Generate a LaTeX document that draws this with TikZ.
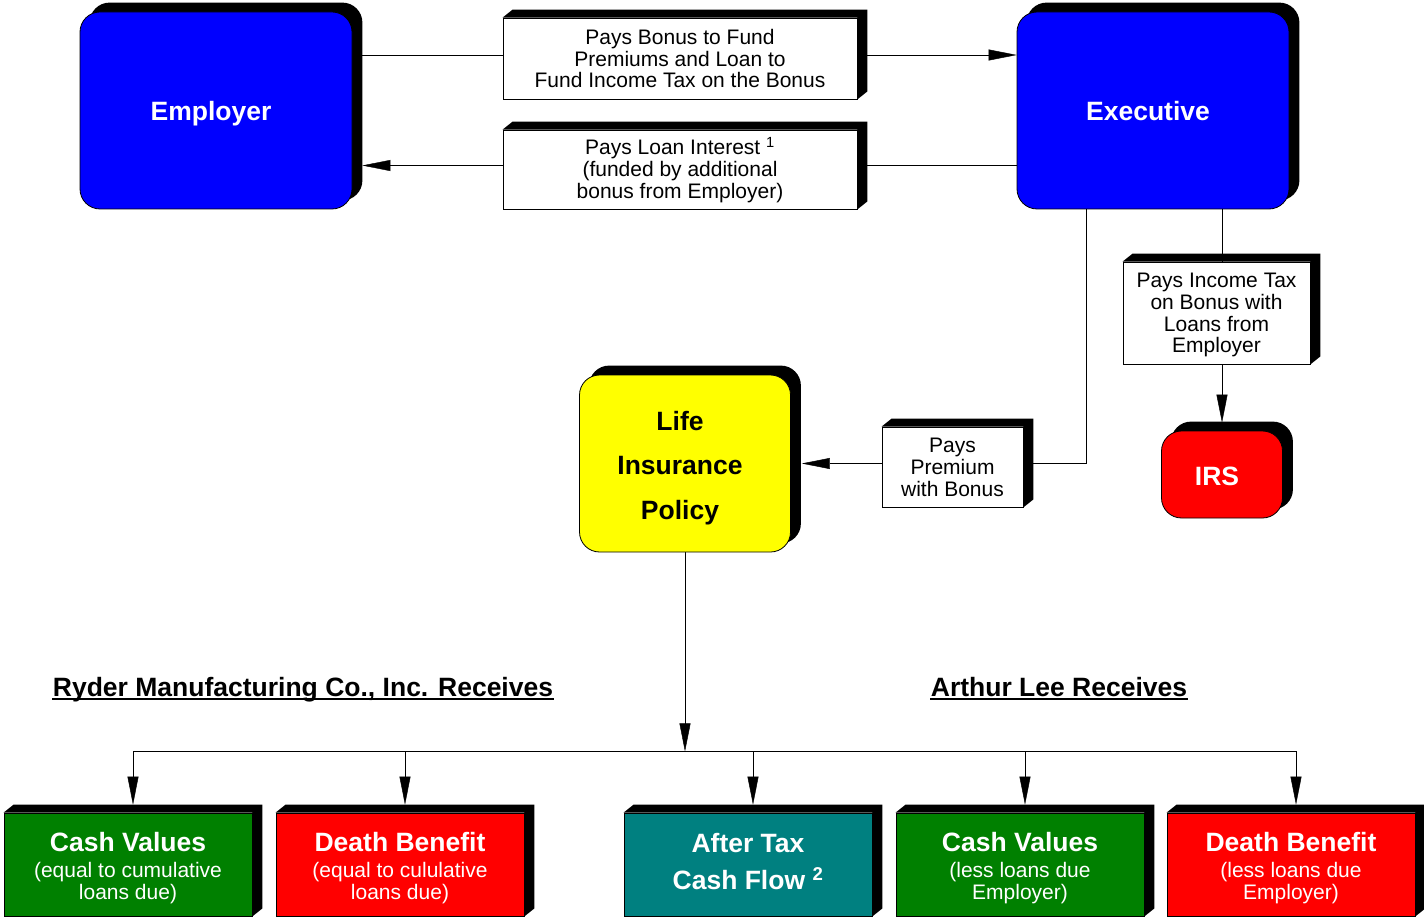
\documentclass[tikz,border=0pt]{standalone}
\usepackage{fontspec}
\setmainfont{Liberation Sans}
\usetikzlibrary{arrows.meta,backgrounds}
\definecolor{cblue}{RGB}{0,0,255}
\definecolor{cyellow}{RGB}{255,255,0}
\definecolor{cred}{RGB}{255,0,0}
\definecolor{cgreen}{RGB}{0,128,0}
\definecolor{cteal}{RGB}{0,128,128}
\newcommand\smallfnt{\fontsize{21}{21.8}\selectfont}
\newcommand\bigfnt{\fontsize{26.5}{30}\selectfont\bfseries}
\newcommand\lft{\hspace*{10pt}\mbox{}}
\newcommand\titl[1]{\textbf{\fontsize{26.5}{26.5}\selectfont\rule{0pt}{22.5pt}#1}}
\begin{document}
\begin{tikzpicture}[x=1pt,y=-1pt,line width=1pt,
  arr/.style={-{Triangle[length=28pt,width=11pt]}},
  rbox/.style={draw=black,line width=0.8pt,rounded corners=20pt,inner sep=0pt,align=center,text=white,font=\bigfnt,text depth=0pt},
  lbox/.style={draw=black,line width=0.8pt,fill=white,inner sep=0pt,align=center,font=\smallfnt,text depth=0pt},
  bbox/.style={draw=black,line width=0.8pt,inner sep=0pt,align=center,text=white,font=\smallfnt,text depth=0pt,minimum width=248pt,minimum height=103pt},
  head/.style={font=\bigfnt,inner sep=0pt,anchor=base}]
\useasboundingbox (0,0) rectangle (1424,917);

% main rounded boxes
\node[rbox,fill=cblue,minimum width=272pt,minimum height=197pt] (emp) at (216,110.5) {Employer\lft};
\node[rbox,fill=cblue,minimum width=272pt,minimum height=197pt] (exe) at (1153,110.5) {Executive\lft};
\node[rbox,fill=cyellow,text=black,minimum width=211pt,minimum height=177pt,font=\fontsize{26.5}{44.5}\selectfont\bfseries] (life) at (685,463.5) {\rule{0pt}{22pt}Life\lft\\Insurance\lft\\Policy\lft};
\node[rbox,fill=cred,minimum width=121pt,minimum height=87pt] (irs) at (1222,474.5) {\rule{0pt}{21pt}IRS\lft};

% label boxes
\node[lbox,minimum width=354pt,minimum height=81pt] (l1) at (680,58.5) {Pays Bonus to Fund\\Premiums and Loan to\\Fund Income Tax on the Bonus};
\node[lbox,minimum width=354pt,minimum height=79pt] (l2) at (680,169.5) {Pays Loan Interest \smash{\textsuperscript{1}}\\(funded by additional\\bonus from Employer)};
\node[lbox,minimum width=187pt,minimum height=102pt] (l3) at (1216.5,313) {Pays Income Tax\\on Bonus with\\Loans from\\Employer};
\node[lbox,minimum width=141pt,minimum height=80pt] (l4) at (952.5,467) {Pays\\Premium\\with Bonus};

% bottom boxes
\node[bbox,fill=cgreen] (b1) at (128,864.5) {\titl{Cash Values}\\[4pt](equal to cumulative\\loans due)};
\node[bbox,fill=cred] (b2) at (400,864.5) {\titl{Death Benefit}\\[4pt](equal to cululative\\loans due)};
\node[bbox,fill=cteal,font=\fontsize{26.5}{37}\selectfont\bfseries,text depth=6pt] (b3) at (748,864.5) {After Tax\\Cash Flow \smash{\textsuperscript{2}}};
\node[bbox,fill=cgreen] (b4) at (1020,864.5) {\titl{Cash Values}\\[4pt](less loans due\\Employer)};
\node[bbox,fill=cred] (b5) at (1291,864.5) {\titl{Death Benefit}\\[4pt](less loans due\\Employer)};

% headings
\node[head] (h1) at (303,696) {Ryder Manufacturing Co., Inc. Receives};
\node[head] (h2) at (1059,696) {Arthur Lee Receives};
\draw[line width=2pt] ([yshift=-3pt]h1.base west) -- ([yshift=-3pt]h1.base east);
\draw[line width=2pt] ([yshift=-3pt]h2.base west) -- ([yshift=-3pt]h2.base east);

\begin{scope}[on background layer]
  % shadows of rounded boxes
  \foreach \n in {emp,exe,life,irs}
    \fill[rounded corners=20pt] ([shift={(10,-9)}]\n.south west) rectangle ([shift={(10,-9)}]\n.north east);
  % extrusions of flat boxes
  \foreach \n in {l1,l2,l3,l4,b1,b2,b3,b4,b5}
    \fill (\n.north west) -- ([shift={(10,-8)}]\n.north west) -- ([shift={(10,-8)}]\n.north east)
      -- ([shift={(10,-8)}]\n.south east) -- (\n.south east) -- (\n.north east) -- cycle;
  % connectors
  \draw[arr] ([shift={(10,-55.5)}]emp.east) -- ([shift={(0,-55.5)}]exe.west);
  \draw[arr] ([shift={(0,55)}]exe.west) -- ([shift={(10,55)}]emp.east);
  \draw[arr] ([shift={(-67,0)}]exe.south) |- ([shift={(11,0)}]life.east);
  \draw[arr] ([shift={(69,0)}]exe.south) -- ([shift={(0,-8)}]irs.north);
  \coordinate (split) at ([shift={(0,199)}]life.south);
  \draw[arr] (life.south) -- (split);
  \foreach \b in {b1,b2,b3,b4,b5}
    \draw[arr] (split) -| ([shift={(5,-8)}]\b.north);
\end{scope}
\end{tikzpicture}
\end{document}
